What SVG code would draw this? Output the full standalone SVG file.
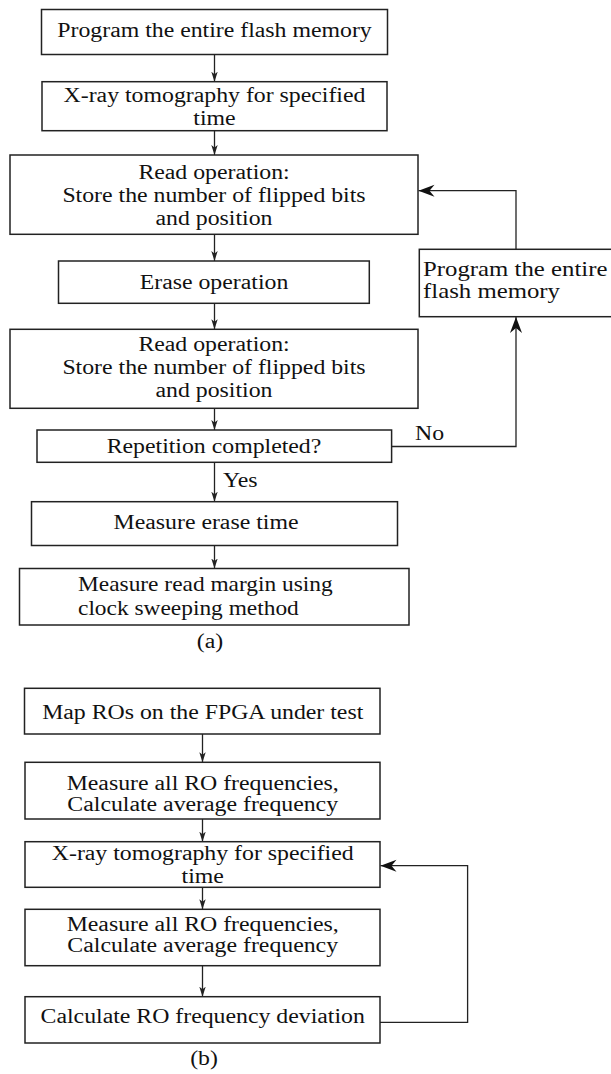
<svg xmlns="http://www.w3.org/2000/svg" width="611" height="1074" viewBox="0 0 611 1074">
  <style>
    .box { fill: #ffffff; stroke: #222222; stroke-width: 1.5; }
    .t { font-family: "Liberation Serif", "Times New Roman", serif; font-size: 20px; fill: #111111; }
    .c { text-anchor: middle; }
    .wire { fill: none; stroke: #222222; stroke-width: 1.3; }
  </style>
  <defs>
    <marker id="arrowSmall" markerUnits="userSpaceOnUse" markerWidth="10" markerHeight="8" refX="10" refY="4" orient="auto">
      <path d="M0,0.8 L10,4 L0,7.2 L2.5,4 z" fill="#222222"/>
    </marker>
    <marker id="arrowBig" markerUnits="userSpaceOnUse" markerWidth="17" markerHeight="13" refX="16" refY="6.5" orient="auto">
      <path d="M0,0.5 L16,6.5 L0,12.5 L5,6.5 z" fill="#111111"/>
    </marker>
  </defs>
  <rect width="611" height="1074" fill="#ffffff"/>

  <!-- connectors -->
  <g id="connectors">
    <!-- flow (a) -->
    <line class="wire" x1="214.5" y1="54.5" x2="214.5" y2="81.7" marker-end="url(#arrowSmall)"/>
    <line class="wire" x1="214.5" y1="130.7" x2="214.5" y2="155" marker-end="url(#arrowSmall)"/>
    <line class="wire" x1="214.5" y1="234.3" x2="214.5" y2="261" marker-end="url(#arrowSmall)"/>
    <line class="wire" x1="214.5" y1="303.3" x2="214.5" y2="329.3" marker-end="url(#arrowSmall)"/>
    <line class="wire" x1="214.5" y1="408.3" x2="214.5" y2="430" marker-end="url(#arrowSmall)"/>
    <line class="wire" x1="214.5" y1="462.3" x2="214.5" y2="501.7" marker-end="url(#arrowSmall)"/>
    <line class="wire" x1="214.5" y1="545.5" x2="214.5" y2="568.5" marker-end="url(#arrowSmall)"/>
    <path class="wire" d="M391.6,446.5 H516 V317" marker-end="url(#arrowBig)"/>
    <path class="wire" d="M516,249.3 V190.7 H418.5" marker-end="url(#arrowBig)"/>
    <!-- flow (b) -->
    <line class="wire" x1="202.5" y1="734" x2="202.5" y2="762.3" marker-end="url(#arrowSmall)"/>
    <line class="wire" x1="202.5" y1="819" x2="202.5" y2="841.7" marker-end="url(#arrowSmall)"/>
    <line class="wire" x1="202.5" y1="887.3" x2="202.5" y2="909.3" marker-end="url(#arrowSmall)"/>
    <line class="wire" x1="202.5" y1="965.7" x2="202.5" y2="996.7" marker-end="url(#arrowSmall)"/>
    <path class="wire" d="M380,1022.3 H467.6 V865.7 H380.5" marker-end="url(#arrowBig)"/>
  </g>

  <!-- flow (a) nodes -->
  <g id="a-program">
    <rect class="box" x="41.5" y="9.5" width="346" height="45"/>
    <text class="t c" transform="translate(214.5,37) scale(1.19 1)" x="0" y="0">Program the entire flash memory</text>
  </g>
  <g id="a-xray">
    <rect class="box" x="42" y="81.7" width="345" height="49"/>
    <text class="t c" transform="translate(214.5,102) scale(1.19 1)"><tspan x="0" y="0">X-ray tomography for specified</tspan><tspan x="0" y="23">time</tspan></text>
  </g>
  <g id="a-read1">
    <rect class="box" x="10" y="155" width="408" height="79.3"/>
    <text class="t c" transform="translate(214,179) scale(1.19 1)"><tspan x="0" y="0">Read operation:</tspan><tspan x="0" y="23">Store the number of flipped bits</tspan><tspan x="0" y="46">and position</tspan></text>
  </g>
  <g id="a-erase">
    <rect class="box" x="58.5" y="261" width="310.8" height="42.3"/>
    <text class="t c" transform="translate(214,289) scale(1.19 1)" x="0" y="0">Erase operation</text>
  </g>
  <g id="a-read2">
    <rect class="box" x="10" y="329.3" width="408" height="79"/>
    <text class="t c" transform="translate(214,351) scale(1.19 1)"><tspan x="0" y="0">Read operation:</tspan><tspan x="0" y="23">Store the number of flipped bits</tspan><tspan x="0" y="46">and position</tspan></text>
  </g>
  <g id="a-repetition">
    <rect class="box" x="37" y="430" width="354.6" height="32.3"/>
    <text class="t c" transform="translate(214,453) scale(1.19 1)" x="0" y="0">Repetition completed?</text>
  </g>
  <g id="a-reprogram">
    <rect class="box" x="419.3" y="249.3" width="220" height="67.4"/>
    <text class="t" transform="translate(423,276) scale(1.24 1)"><tspan x="0" y="0">Program the entire</tspan><tspan x="0" y="22">flash memory</tspan></text>
  </g>
  <g id="a-erase-time">
    <rect class="box" x="31.5" y="501.7" width="366" height="43.8"/>
    <text class="t c" transform="translate(206,529) scale(1.19 1)" x="0" y="0">Measure erase time</text>
  </g>
  <g id="a-read-margin">
    <rect class="box" x="19.5" y="568.5" width="389.5" height="56.5"/>
    <text class="t" transform="translate(78,591) scale(1.17 1)"><tspan x="0" y="0">Measure read margin using</tspan><tspan x="0" y="24">clock sweeping method</tspan></text>
  </g>
  <g id="a-labels">
    <text class="t" transform="translate(415,440) scale(1.19 1)" x="0" y="0">No</text>
    <text class="t" transform="translate(223,487) scale(1.19 1)" x="0" y="0">Yes</text>
    <text class="t c" transform="translate(210,648) scale(1.19 1)" x="0" y="0">(a)</text>
  </g>

  <!-- flow (b) nodes -->
  <g id="b-map">
    <rect class="box" x="24.5" y="688.3" width="355.5" height="45.7"/>
    <text class="t c" transform="translate(202.7,719) scale(1.19 1)" x="0" y="0">Map ROs on the FPGA under test</text>
  </g>
  <g id="b-measure1">
    <rect class="box" x="25" y="762.3" width="355" height="56.7"/>
    <text class="t c" transform="translate(202.7,790) scale(1.19 1)"><tspan x="0" y="0">Measure all RO frequencies,</tspan><tspan x="0" y="21.5">Calculate average frequency</tspan></text>
  </g>
  <g id="b-xray">
    <rect class="box" x="25" y="841.7" width="355" height="45.6"/>
    <text class="t c" transform="translate(202.7,860) scale(1.19 1)"><tspan x="0" y="0">X-ray tomography for specified</tspan><tspan x="0" y="23">time</tspan></text>
  </g>
  <g id="b-measure2">
    <rect class="box" x="25" y="909.3" width="355" height="56.4"/>
    <text class="t c" transform="translate(202.7,930.5) scale(1.19 1)"><tspan x="0" y="0">Measure all RO frequencies,</tspan><tspan x="0" y="21.5">Calculate average frequency</tspan></text>
  </g>
  <g id="b-deviation">
    <rect class="box" x="25" y="996.7" width="355" height="46.3"/>
    <text class="t c" transform="translate(202.7,1023) scale(1.19 1)" x="0" y="0">Calculate RO frequency deviation</text>
  </g>
  <g id="b-labels">
    <text class="t c" transform="translate(204,1065) scale(1.19 1)" x="0" y="0">(b)</text>
  </g>
</svg>
